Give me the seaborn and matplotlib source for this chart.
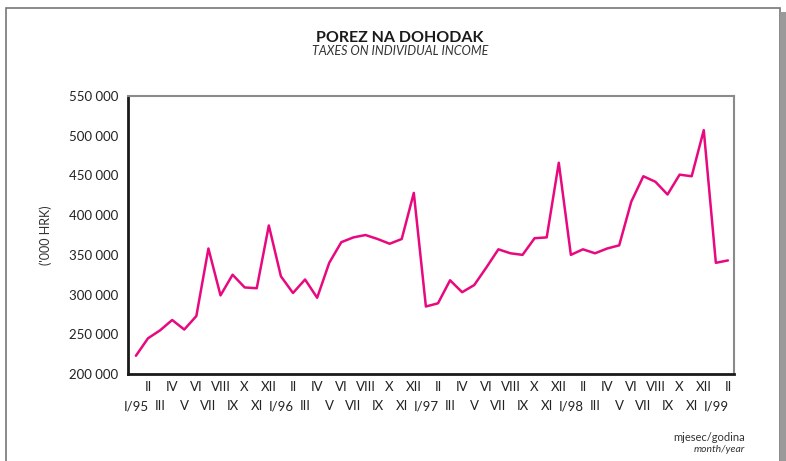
import numpy as np
import pandas as pd
import matplotlib
matplotlib.use("Agg")
import matplotlib.pyplot as plt
from matplotlib.patches import Rectangle
import seaborn as sns

# monthly taxes on individual income, '000 HRK, I/95 .. II/99
months = ["I/95", "II", "III", "IV", "V", "VI", "VII", "VIII", "IX", "X", "XI", "XII",
          "I/96", "II", "III", "IV", "V", "VI", "VII", "VIII", "IX", "X", "XI", "XII",
          "I/97", "II", "III", "IV", "V", "VI", "VII", "VIII", "IX", "X", "XI", "XII",
          "I/98", "II", "III", "IV", "V", "VI", "VII", "VIII", "IX", "X", "XI", "XII",
          "I/99", "II"]
taxes = [223000, 245000, 255000, 268000, 256000, 273000, 358000, 299000, 325000, 309000,
         308000, 387000, 323000, 302000, 319000, 296000, 340000, 366000, 372000, 375000,
         370000, 364000, 370000, 428000, 285000, 289000, 318000, 303000, 312000, 334000,
         357000, 352000, 350000, 371000, 372000, 466000, 350000, 357000, 352000, 358000,
         362000, 417000, 449000, 442000, 426000, 451000, 449000, 507000, 340000, 343000]
y_ticks = [200000, 250000, 300000, 350000, 400000, 450000, 500000, 550000]

df = pd.DataFrame({"idx": np.arange(len(taxes)), "month": months, "taxes": taxes})

sns.set_style("white")
plt.rcParams["font.family"] = ["Lato", "DejaVu Sans"]

fig = plt.figure(figsize=(7.86, 4.61), dpi=100)
ax = fig.add_axes([0.1628, 0.1887, 0.771, 0.603])

sns.lineplot(data=df, x="idx", y="taxes", ax=ax, color="#E8097F", linewidth=1.8)

ax.set_xlim(-0.66, 49.5)
ax.set_ylim(200000, 550000)
ax.set_yticks(y_ticks)
ax.set_yticklabels([f"{v // 1000} 000" for v in y_ticks], fontsize=9.5, color="#222222")
ax.tick_params(axis="y", length=4, width=0.8, color="#333333", pad=3)

# two rows of month labels: even months on top, odd months below
ax.set_xticks(df.idx[1::2])
ax.set_xticklabels(df.month[1::2], fontsize=9.5, color="#222222")
ax.set_xticks(df.idx[0::2], minor=True)
ax.set_xticklabels(df.month[0::2], minor=True, fontsize=9.5, color="#222222")
ax.tick_params(axis="x", which="major", length=0, pad=5)
ax.tick_params(axis="x", which="minor", length=0, pad=19)

ax.set_xlabel("")
ax.set_ylabel("('000 HRK)", fontsize=9, color="#333333", labelpad=12)

for s in ["left", "bottom"]:
    ax.spines[s].set_color("#1a1a1a")
    ax.spines[s].set_linewidth(2)
for s in ["top", "right"]:
    ax.spines[s].set_color("#8a8a8a")
    ax.spines[s].set_linewidth(1.5)

# frame around the whole panel
fig.patches.append(Rectangle((0.008, -0.01), 0.984, 0.992, transform=fig.transFigure,
                             fill=False, edgecolor="#777777", linewidth=1.2))
fig.patches.append(Rectangle((0.993, -0.01), 0.007, 0.985, transform=fig.transFigure,
                             facecolor="#9a9a9a", edgecolor="none"))

fig.text(0.509, 0.917, "POREZ NA DOHODAK", ha="center", va="center",
         fontsize=11.5, fontweight="bold", color="#1a1a1a")
fig.text(0.509, 0.889, "TAXES ON INDIVIDUAL INCOME", ha="center", va="center",
         fontsize=9, style="italic", color="#333333")
fig.text(0.948, 0.052, "mjesec/godina", ha="right", va="center", fontsize=8, color="#333333")
fig.text(0.948, 0.024, "month/year", ha="right", va="center", fontsize=7.5,
         style="italic", color="#333333")

fig.savefig("out.png", dpi=100)
